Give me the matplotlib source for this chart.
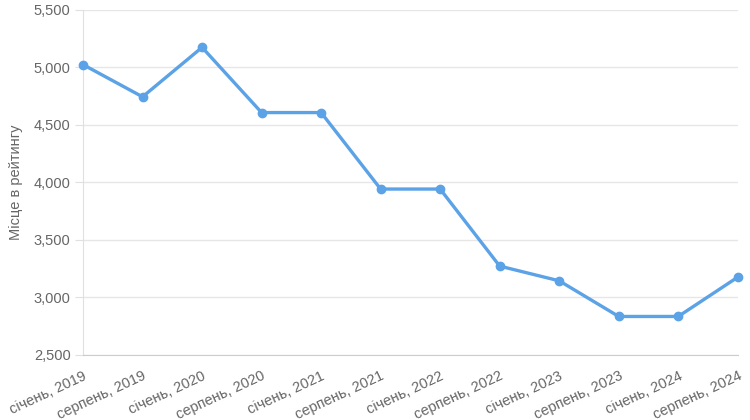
import matplotlib.pyplot as plt
from matplotlib.ticker import FuncFormatter

plt.rcParams['font.family'] = ['Liberation Sans', 'DejaVu Sans']

# Дані
labels = ['січень, 2019', 'серпень, 2019', 'січень, 2020', 'серпень, 2020',
          'січень, 2021', 'серпень, 2021', 'січень, 2022', 'серпень, 2022',
          'січень, 2023', 'серпень, 2023', 'січень, 2024', 'серпень, 2024']
rank = [5025, 4745, 5175, 4608, 4608, 3943, 3943, 3273, 3145, 2835, 2835, 3177]

fig = plt.figure(figsize=(7.5, 4.2), dpi=100)
ax = fig.add_axes([0.1107, 0.1548, 0.873, 0.8214])

x = range(len(labels))
ax.plot(x, rank, color='#5ba2e6', linewidth=2.4, marker='o', markersize=6,
        clip_on=False, zorder=3)

ax.set_xlim(0, len(labels) - 1)
ax.set_ylim(2500, 5500)
ax.set_yticks(range(2500, 5501, 500))
ax.yaxis.set_major_formatter(FuncFormatter(lambda v, p: f'{int(v):,}'))
ax.set_xticks(list(x))
ax.set_xticklabels(labels, rotation=25, ha='right', rotation_mode='anchor')

ax.grid(axis='y', color='#e6e6e6', linewidth=1)
ax.set_axisbelow(True)
for s in ['top', 'right']:
    ax.spines[s].set_visible(False)
ax.spines['left'].set_color('#e0e0e0')
ax.spines['bottom'].set_color('#cccccc')
ax.tick_params(axis='y', colors='#e0e0e0', labelcolor='#666666', labelsize=10.5,
               length=6, pad=3)
ax.tick_params(axis='x', length=0, labelcolor='#666666', labelsize=10.5, pad=10)

ax.set_ylabel('Місце в рейтингу', color='#666666', fontsize=10.5, labelpad=8)

fig.savefig('out.png')
